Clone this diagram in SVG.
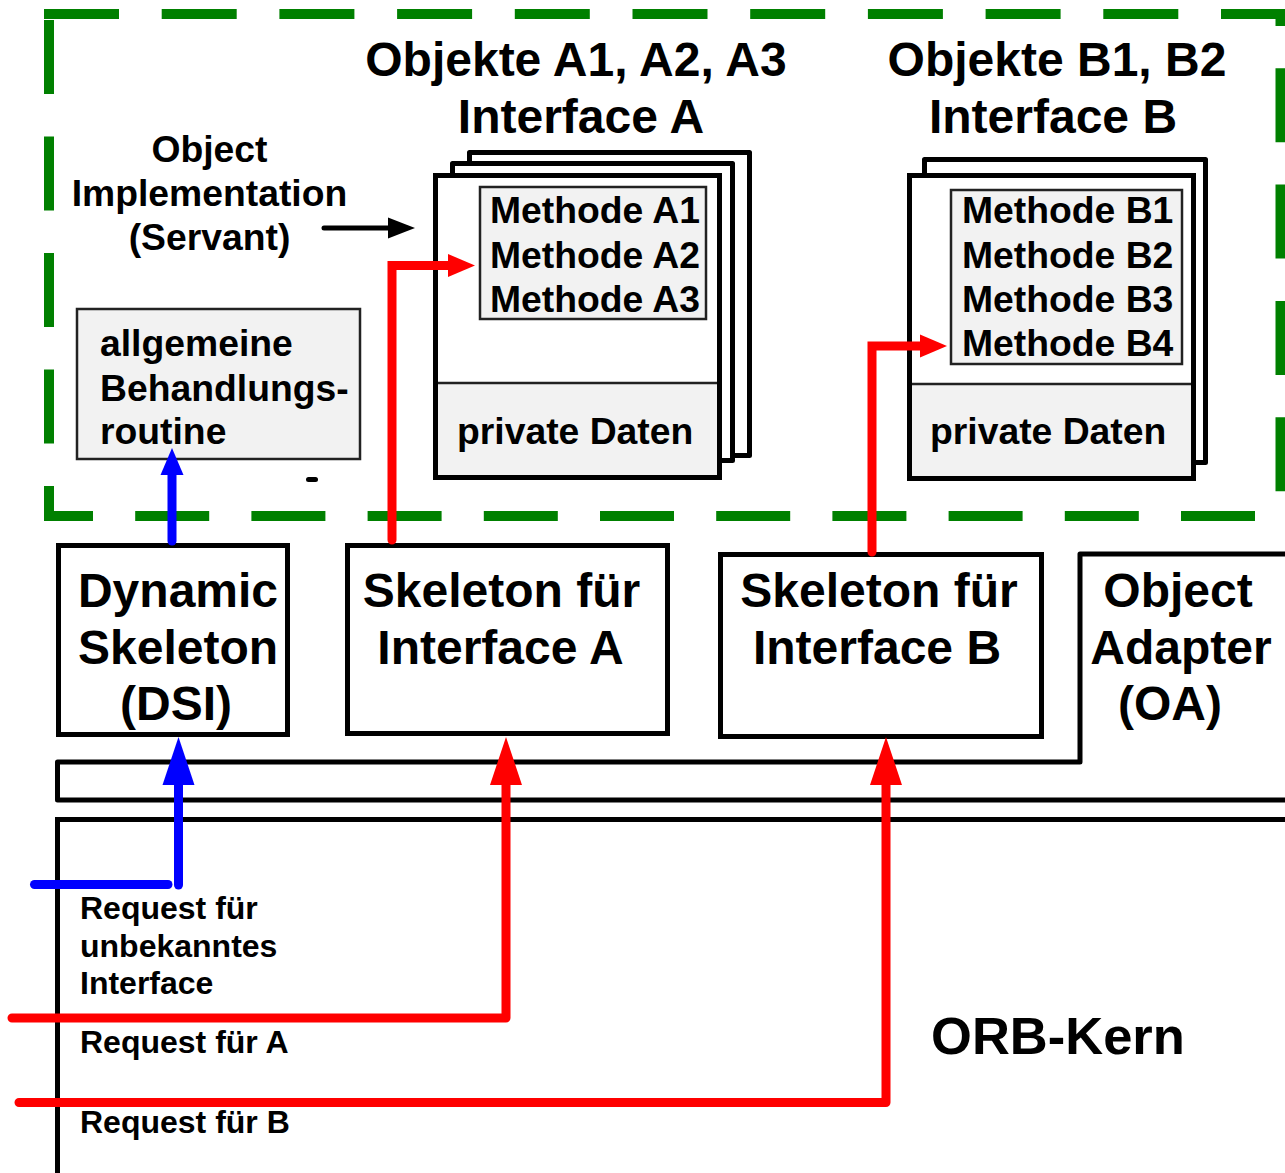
<svg xmlns="http://www.w3.org/2000/svg" width="1285" height="1173" viewBox="0 0 1285 1173">
<style>
text{font-family:"Liberation Sans",Arial,sans-serif;font-weight:bold;fill:#000}
.big{font-size:48px}
.mid{font-size:37.3px}
.sm{font-size:32px}
.box{fill:#fff;stroke:#000;stroke-width:5}
.sheet{fill:#fff;stroke:#000;stroke-width:5;stroke-linejoin:round}
.gray{fill:#f2f2f2;stroke:#222;stroke-width:2.5}
.green{fill:none;stroke:#008000;stroke-width:10}
.red{fill:none;stroke:#ff0000;stroke-width:9;stroke-linecap:round}
.blue{fill:none;stroke:#0000ff;stroke-width:9;stroke-linecap:round}
.blk{fill:none;stroke:#000;stroke-width:5;stroke-linecap:round}
</style>
<defs>
<marker id="redS" markerUnits="userSpaceOnUse" viewBox="0 -12 27 24" markerWidth="27" markerHeight="24" refX="0" refY="0" orient="auto" overflow="visible"><path d="M0,-11.5 L27,0 L0,11.5 z" fill="#ff0000"/></marker>
<marker id="blueS" markerUnits="userSpaceOnUse" viewBox="0 -12 27 24" markerWidth="27" markerHeight="24" refX="0" refY="0" orient="auto" overflow="visible"><path d="M0,-11.5 L27,0 L0,11.5 z" fill="#0000ff"/></marker>
<marker id="blkS" markerUnits="userSpaceOnUse" viewBox="0 -11 27 22" markerWidth="27" markerHeight="22" refX="0" refY="0" orient="auto" overflow="visible"><path d="M0,-10.5 L27,0 L0,10.5 z" fill="#000"/></marker>
<marker id="redL" markerUnits="userSpaceOnUse" viewBox="0 -17 48 34" markerWidth="48" markerHeight="34" refX="0" refY="0" orient="auto" overflow="visible"><path d="M0,-16 L48,0 L0,16 z" fill="#ff0000"/></marker>
<marker id="blueL" markerUnits="userSpaceOnUse" viewBox="0 -17 48 34" markerWidth="48" markerHeight="34" refX="0" refY="0" orient="auto" overflow="visible"><path d="M0,-16 L48,0 L0,16 z" fill="#0000ff"/></marker>
</defs>

<g id="servant-frame">
<line class="green" x1="44" y1="14" x2="1285" y2="14" stroke-dasharray="75 42.7"/>
<line class="green" x1="1280.5" y1="9" x2="1280.5" y2="521" stroke-dasharray="74 42.3" stroke-dashoffset="57"/>
<line class="green" x1="44" y1="516" x2="1285" y2="516" stroke-dasharray="74 42.2" stroke-dashoffset="25"/>
<line class="green" x1="49" y1="20" x2="49" y2="521" stroke-dasharray="74 42.5"/>
</g>

<g id="title-a">
<text class="big" x="576" y="76" text-anchor="middle">Objekte A1, A2, A3</text>
<text class="big" x="581" y="133" text-anchor="middle">Interface A</text>
</g>
<g id="title-b">
<text class="big" x="1057" y="76" text-anchor="middle">Objekte B1, B2</text>
<text class="big" x="1053" y="133" text-anchor="middle">Interface B</text>
</g>

<g id="servant-label">
<text class="mid" x="209.5" y="162" text-anchor="middle">Object</text>
<text class="mid" x="209.5" y="206" text-anchor="middle">Implementation</text>
<text class="mid" x="209.5" y="250" text-anchor="middle">(Servant)</text>
</g>

<g id="objects-a">
<rect class="sheet" x="469.5" y="152.5" width="280" height="303"/>
<rect class="sheet" x="452.5" y="163.5" width="280" height="297"/>
<rect x="435.5" y="175.5" width="284" height="302" fill="#fff"/>
<rect x="435.5" y="383" width="284" height="94.5" fill="#f2f2f2"/>
<line x1="435.5" y1="383" x2="719.5" y2="383" stroke="#222" stroke-width="2.5"/>
<rect x="435.5" y="175.5" width="284" height="302" fill="none" stroke="#000" stroke-width="5"/>
<rect class="gray" x="480" y="187" width="226" height="132"/>
<text class="mid" x="490" y="223">Methode A1</text>
<text class="mid" x="490" y="268">Methode A2</text>
<text class="mid" x="490" y="312">Methode A3</text>
<text class="mid" x="457" y="444">private Daten</text>
</g>

<g id="objects-b">
<rect class="sheet" x="924.5" y="159.5" width="281" height="303"/>
<rect x="909.5" y="175.5" width="284" height="303" fill="#fff"/>
<rect x="909.5" y="384" width="284" height="94.5" fill="#f2f2f2"/>
<line x1="909.5" y1="384" x2="1193.5" y2="384" stroke="#222" stroke-width="2.5"/>
<rect x="909.5" y="175.5" width="284" height="303" fill="none" stroke="#000" stroke-width="5"/>
<rect class="gray" x="951" y="190" width="231" height="174"/>
<text class="mid" x="962" y="223">Methode B1</text>
<text class="mid" x="962" y="268">Methode B2</text>
<text class="mid" x="962" y="312">Methode B3</text>
<text class="mid" x="962" y="356">Methode B4</text>
<text class="mid" x="930" y="444">private Daten</text>
</g>

<g id="generic-routine">
<rect class="gray" x="77" y="309" width="283" height="150"/>
<text class="mid" x="100" y="356">allgemeine</text>
<text class="mid" x="100" y="401">Behandlungs-</text>
<text class="mid" x="100" y="444">routine</text>
<line x1="308.5" y1="479.5" x2="315.5" y2="479.5" stroke="#000" stroke-width="5" stroke-linecap="round"/>
</g>

<g id="dsi">
<rect class="box" x="58.5" y="545.5" width="229" height="189"/>
<text class="big" x="178" y="607" text-anchor="middle">Dynamic</text>
<text class="big" x="178" y="664" text-anchor="middle">Skeleton</text>
<text class="big" x="176" y="720" text-anchor="middle">(DSI)</text>
</g>

<g id="skeleton-a">
<rect class="box" x="347.5" y="545.5" width="320" height="188"/>
<text class="big" x="501.5" y="607" text-anchor="middle">Skeleton für</text>
<text class="big" x="500.5" y="664" text-anchor="middle">Interface A</text>
</g>

<g id="skeleton-b">
<rect class="box" x="720.5" y="554.5" width="321" height="182"/>
<text class="big" x="879" y="607" text-anchor="middle">Skeleton für</text>
<text class="big" x="877" y="664" text-anchor="middle">Interface B</text>
</g>

<g id="object-adapter">
<path d="M1290,554 H1080 V762 H57.5 V800 H1290" fill="none" stroke="#000" stroke-width="5" stroke-linejoin="round"/>
<text class="big" x="1178" y="607" text-anchor="middle">Object</text>
<text class="big" x="1181" y="664" text-anchor="middle">Adapter</text>
<text class="big" x="1170" y="720" text-anchor="middle">(OA)</text>
</g>

<g id="orb-kern">
<path d="M1290,819.5 H57.5 V1180" fill="none" stroke="#000" stroke-width="5"/>
<text x="1058" y="1054" text-anchor="middle" style="font-size:52.5px">ORB-Kern</text>
<text class="sm" x="80" y="919">Request für</text>
<text class="sm" x="80" y="957">unbekanntes</text>
<text class="sm" x="80" y="994">Interface</text>
<text class="sm" x="80" y="1053">Request für A</text>
<text class="sm" x="80" y="1133">Request für B</text>
</g>

<g id="connectors">
<line class="blk" x1="324" y1="228" x2="388" y2="228" marker-end="url(#blkS)"/>
<path class="red" d="M392,540 V265.5 H448" stroke-linejoin="miter" marker-end="url(#redS)"/>
<path class="red" d="M872,552 V346 H920" stroke-linejoin="miter" marker-end="url(#redS)"/>
<line class="blue" x1="172" y1="541" x2="172" y2="475" marker-end="url(#blueS)"/>
<line class="blue" x1="34.5" y1="884.5" x2="168" y2="884.5"/>
<line class="blue" x1="178.5" y1="885" x2="178.5" y2="785" marker-end="url(#blueL)"/>
<path class="red" d="M12,1018 H506 V785" stroke-linejoin="round" marker-end="url(#redL)"/>
<path class="red" d="M19,1102.5 H886 V785" stroke-linejoin="round" marker-end="url(#redL)"/>
</g>
</svg>
